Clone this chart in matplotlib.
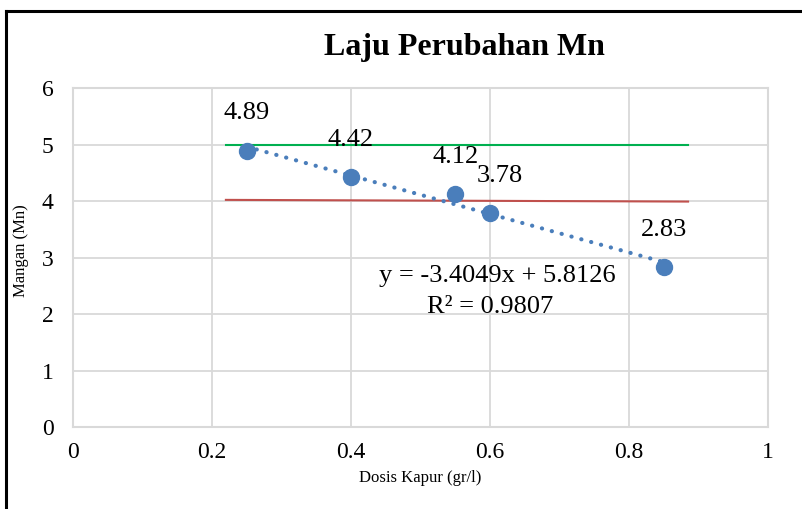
import numpy as np
import matplotlib
matplotlib.use("Agg")
import matplotlib.pyplot as plt
from matplotlib.lines import Line2D

# data
dosis = [0.25, 0.4, 0.55, 0.6, 0.85]
mangan = [4.89, 4.42, 4.12, 3.78, 2.83]
green_x = [0.22, 0.885]
green_y = [5.0, 5.0]
red_x = [0.22, 0.885]
red_y = [4.02, 3.99]

plt.rcParams['font.family'] = ['Liberation Serif', 'DejaVu Serif']

fig = plt.figure(figsize=(8.03, 5.09), dpi=100)
ax = fig.add_axes([0.0909, 0.1611, 0.8655, 0.666])

grid_c = '#d9d9d9'
ax.set_xlim(0, 1)
ax.set_ylim(0, 6)
ax.set_xticks(np.arange(0, 1.01, 0.2))
ax.set_yticks(range(0, 7))
ax.set_xticklabels(['0', '0.2', '0.4', '0.6', '0.8', '1'])
ax.grid(True, color=grid_c, linewidth=1.3)
ax.set_axisbelow(True)
for s in ax.spines.values():
    s.set_color(grid_c)
    s.set_linewidth(1.5)
ax.tick_params(length=0, labelsize=17, pad=11)
ax.tick_params(axis='y', pad=14)

ax.plot(green_x, green_y, color='#00b050', linewidth=1.5)
ax.plot(red_x, red_y, color='#c0504d', linewidth=1.5)

# linear trend
m, b = np.polyfit(dosis, mangan, 1)
pred = m * np.array(dosis) + b
r2 = 1 - np.sum((np.array(mangan) - pred) ** 2) / np.sum((np.array(mangan) - np.mean(mangan)) ** 2)
tx = np.array([min(dosis), max(dosis)])
ax.plot(tx, m * tx + b, color='#4a7ebb', linewidth=3, linestyle=(0, (0.05, 2.4)),
        dash_capstyle='round')

ax.plot(dosis, mangan, 'o', color='#4a7ebb', markersize=11.5, zorder=5)

offsets = [(0, 27), (0, 27), (0, 27), (7, 27), (0, 27)]
for x, y, off in zip(dosis, mangan, offsets):
    ax.annotate(f'{y:.2f}', (x, y), xytext=off, textcoords='offset points',
                ha='center', va='center', fontsize=19)

ax.text(0.61, 2.68, f'y = {m:.4f}x + {b:.4f}', ha='center', va='center', fontsize=19)
ax.text(0.60, 2.13, f'R\u00b2 = {r2:.4f}', ha='center', va='center', fontsize=19)

ax.set_xlabel('Dosis Kapur (gr/l)', fontsize=12, labelpad=5)
ax.set_ylabel('Mangan (Mn)', fontsize=12)
ax.yaxis.set_label_coords(-0.064, 0.52)
fig.text(0.578, 0.907, 'Laju Perubahan Mn', ha='center', va='center',
         fontsize=23, fontweight='bold')

# frame lines (top and left)
fig.add_artist(Line2D([0.0075, 1.0], [0.978, 0.978], color='black', linewidth=2.2))
fig.add_artist(Line2D([0.0075, 0.0075], [0.0, 0.978], color='black', linewidth=2.2))

fig.savefig('out.png', dpi=100)
